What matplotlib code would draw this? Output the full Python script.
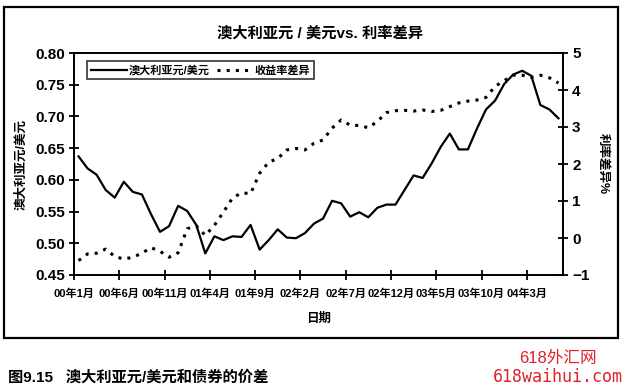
import numpy as np
import matplotlib
matplotlib.use("Agg")
import matplotlib.pyplot as plt
from matplotlib.lines import Line2D
from matplotlib.patches import Rectangle

plt.rcParams['font.family'] = ['Liberation Sans', 'Noto Sans CJK SC', 'DejaVu Sans']

# 月度数据：00年1月 起，共 54 个月
aud_usd = [0.637, 0.618, 0.608, 0.584, 0.572, 0.597, 0.581, 0.577, 0.546, 0.518,
           0.527, 0.559, 0.551, 0.529, 0.484, 0.511, 0.505, 0.511, 0.510, 0.529,
           0.490, 0.505, 0.522, 0.509, 0.508, 0.516, 0.531, 0.539, 0.567, 0.563,
           0.542, 0.549, 0.541, 0.556, 0.561, 0.561, 0.584, 0.607, 0.603, 0.626,
           0.652, 0.673, 0.648, 0.648, 0.681, 0.711, 0.725, 0.751, 0.766, 0.772,
           0.764, 0.718, 0.711, 0.697]
yield_diff = [-0.61, -0.43, -0.41, -0.30, -0.50, -0.57, -0.52, -0.41, -0.26, -0.36,
              -0.52, -0.40, 0.25, 0.33, 0.07, 0.34, 0.70, 1.08, 1.22, 1.20,
              1.75, 2.05, 2.15, 2.38, 2.42, 2.38, 2.56, 2.65, 2.97, 3.19,
              3.05, 3.04, 2.98, 3.15, 3.39, 3.44, 3.45, 3.43, 3.46, 3.42,
              3.45, 3.55, 3.65, 3.70, 3.73, 3.80, 4.10, 4.25, 4.40, 4.40,
              4.34, 4.40, 4.33, 4.19]
tick_labels = ['00年1月', '00年6月', '00年11月', '01年4月', '01年9月', '02年2月',
               '02年7月', '02年12月', '03年5月', '03年10月', '04年3月']

W, H = 622, 391
fig = plt.figure(figsize=(W / 100, H / 100), dpi=100)
ax = fig.add_axes([74 / W, 1 - 275 / H, (563 - 74) / W, (275 - 53) / H])
ax2 = ax.twinx()

x = np.arange(len(aud_usd)) + 0.5
ax.plot(x, aud_usd, color='black', lw=1.6, zorder=3)
ax2.plot(x, yield_diff, color='black', lw=2.2, linestyle=(0, (1.0, 2.0)))

ax.set_xlim(0, 54)
ax.set_ylim(0.45, 0.80)
ax2.set_ylim(-1, 5)
ax.set_xticks(np.arange(0, 51, 5))
ax.set_xticklabels(tick_labels, fontsize=8, fontweight='bold')
ax.set_yticks(np.arange(0.45, 0.801, 0.05))
ax.set_yticklabels(['%.2f' % v for v in np.arange(0.45, 0.801, 0.05)],
                   fontsize=11, fontweight='bold')
ax2.set_yticks(range(-1, 6))
ax2.set_yticklabels([str(v).replace('-', '−') for v in range(-1, 6)],
                    fontsize=11, fontweight='bold')

for a in (ax, ax2):
    for s in a.spines.values():
        s.set_linewidth(1.3)
ax.tick_params(axis='both', direction='inout', length=7, width=1.3, pad=3)
ax.tick_params(axis='x', pad=6)
ax2.tick_params(axis='y', direction='inout', length=7, width=1.3, pad=3)

ax.set_xlabel('日期', fontsize=9, fontweight='bold', labelpad=10)
ax.set_ylabel('澳大利亚元/美元', fontsize=9, fontweight='bold', labelpad=6)
ax2.set_ylabel('利率差异%', fontsize=9, fontweight='bold', rotation=270, labelpad=14)
fig.text(320 / W, 1 - 33 / H, '澳大利亚元 / 美元vs. 利率差异', ha='center', va='center',
         fontsize=11, fontweight='bold')

handles = [Line2D([], [], color='black', lw=1.6),
           Line2D([], [], color='black', lw=2.2, linestyle=(0, (1.0, 2.0)))]
leg = ax.legend(handles, ['澳大利亚元/美元', '收益率差异'], ncol=2, loc='upper left',
                bbox_to_anchor=(0.027, 0.965), frameon=True, fancybox=False,
                prop={'weight': 'bold', 'size': 8}, handlelength=3.2,
                handletextpad=0.2, columnspacing=0.6, borderpad=0.35,
                borderaxespad=0)
leg.get_frame().set_edgecolor('black')
leg.get_frame().set_linewidth(1.2)

# 外框
fig.patches.append(Rectangle((4 / W, 1 - 338 / H), 614 / W, 331 / H,
                             transform=fig.transFigure, fill=False,
                             edgecolor='black', lw=1.6))

fig.text(8 / W, 1 - 377 / H, '图9.15   澳大利亚元/美元和债券的价差', ha='left',
         va='center', fontsize=11, fontweight='bold')
fig.text(558 / W, 1 - 358 / H, '618外汇网', ha='center', va='center',
         fontsize=12, color='#e0202a')
fig.text(558 / W, 1 - 377 / H, '618waihui.com', ha='center', va='center',
         fontsize=12, color='#e0202a', family=['DejaVu Sans Mono'])

fig.savefig('out.png', dpi=100)
